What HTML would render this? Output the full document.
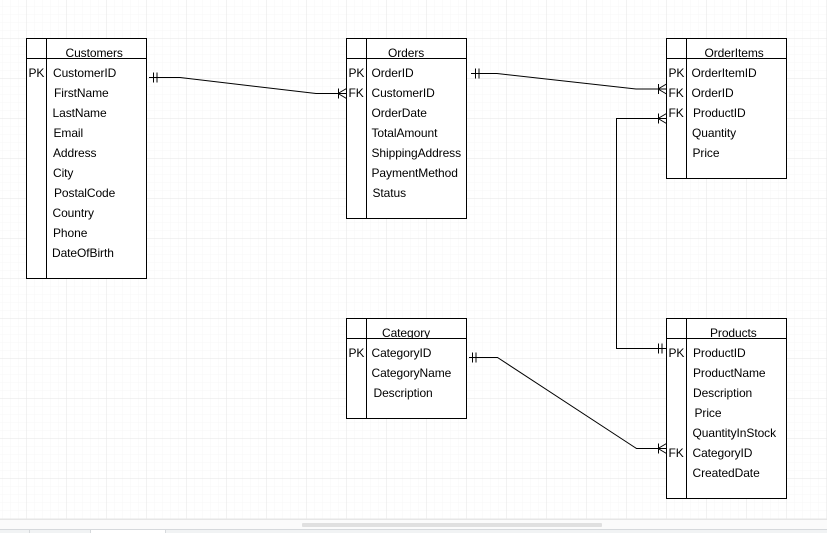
<!DOCTYPE html>
<html>
<head>
<meta charset="utf-8">
<style>
html,body{margin:0;padding:0;background:#fff;width:827px;height:533px;overflow:hidden}
svg{display:block;position:absolute;left:0;top:0}
text{font-family:"Liberation Sans",Arial,sans-serif;font-size:12px;fill:#000;letter-spacing:-0.08px}
</style>
</head>
<body>
<svg width="827" height="533" viewBox="0 0 827 533" xmlns="http://www.w3.org/2000/svg">
<defs>
<pattern id="minor" x="26.5" y="38.5" width="8" height="8" patternUnits="userSpaceOnUse"><path d="M0 0V8M0 0H8" stroke="#f7f7f7" stroke-width="1" fill="none"/></pattern>
<pattern id="major" x="26.5" y="38.5" width="40" height="40" patternUnits="userSpaceOnUse"><path d="M0 0V40M0 0H40" stroke="#e6e6e6" stroke-width="1" fill="none"/></pattern>
<clipPath id="cat"><rect x="367" y="319" width="100" height="19"/></clipPath>
</defs>
<rect x="0" y="0" width="827" height="519" fill="#fff"/>
<rect x="0" y="0" width="827" height="519" fill="url(#minor)"/>
<rect x="0" y="0" width="827" height="519" fill="url(#major)"/>
<rect x="0" y="519" width="827" height="10" fill="#fbfbfb"/>
<rect x="0" y="519" width="827" height="1" fill="#e6e6e6"/>
<rect x="302" y="523" width="300" height="4" rx="1" fill="#e0e0e0"/>
<rect x="0" y="529" width="827" height="4" fill="#f1f3f4"/>
<rect x="0" y="529" width="827" height="1" fill="#d6d9dc"/>
<rect x="91" y="530" width="74" height="3" fill="#fff"/>
<rect x="29" y="530" width="1" height="3" fill="#d6d9dc"/>
<rect x="90" y="530" width="1" height="3" fill="#d6d9dc"/>
<rect x="165" y="530" width="1" height="3" fill="#d6d9dc"/>

<g fill="#fff" stroke="#000" stroke-width="1">
<rect x="26.5" y="38.5" width="120" height="240"/><path d="M26.5 58.5H146.5M46.5 38.5V278.5" fill="none"/>
<rect x="346.5" y="38.5" width="120" height="180"/><path d="M346.5 58.5H466.5M366.5 38.5V218.5" fill="none"/>
<rect x="666.5" y="38.5" width="120" height="140"/><path d="M666.5 58.5H786.5M686.5 38.5V178.5" fill="none"/>
<rect x="346.5" y="318.5" width="120" height="100"/><path d="M346.5 338.5H466.5M366.5 318.5V418.5" fill="none"/>
<rect x="666.5" y="318.5" width="120" height="180"/><path d="M666.5 338.5H786.5M686.5 318.5V498.5" fill="none"/>
</g>

<g>
<text x="65.5" y="57">Customers</text>
<text x="28.5" y="77">PK</text>
<text x="53" y="77">CustomerID</text>
<text x="54" y="97">FirstName</text>
<text x="52.5" y="117">LastName</text>
<text x="53.5" y="137">Email</text>
<text x="53" y="157">Address</text>
<text x="53" y="177">City</text>
<text x="54" y="197">PostalCode</text>
<text x="52.5" y="217">Country</text>
<text x="53" y="237">Phone</text>
<text x="52" y="257">DateOfBirth</text>

<text x="388" y="57">Orders</text>
<text x="348.5" y="77">PK</text><text x="348.5" y="97">FK</text>
<text x="371.5" y="77">OrderID</text>
<text x="371.5" y="97">CustomerID</text>
<text x="371.5" y="117">OrderDate</text>
<text x="371.5" y="137">TotalAmount</text>
<text x="371.5" y="157">ShippingAddress</text>
<text x="371.5" y="177">PaymentMethod</text>
<text x="372.5" y="197">Status</text>

<text x="704.5" y="57">OrderItems</text>
<text x="668.5" y="77">PK</text><text x="668.5" y="97">FK</text><text x="668.5" y="117">FK</text>
<text x="691.5" y="77">OrderItemID</text>
<text x="691.5" y="97">OrderID</text>
<text x="693" y="117">ProductID</text>
<text x="692" y="137">Quantity</text>
<text x="692.5" y="157">Price</text>

<text x="382" y="337" clip-path="url(#cat)">Category</text>
<text x="348.5" y="357">PK</text>
<text x="371.5" y="357">CategoryID</text>
<text x="371.5" y="377">CategoryName</text>
<text x="373.5" y="397">Description</text>

<text x="710" y="337">Products</text>
<text x="668.5" y="357">PK</text><text x="668.5" y="457">FK</text>
<text x="693" y="357">ProductID</text>
<text x="693" y="377">ProductName</text>
<text x="693" y="397">Description</text>
<text x="694.5" y="417">Price</text>
<text x="692.5" y="437">QuantityInStock</text>
<text x="692.5" y="457">CategoryID</text>
<text x="692.5" y="477">CreatedDate</text>
</g>

<g fill="none" stroke="#000" stroke-width="1">
<path d="M149 77.5H180L316 93.5H346"/>
<path d="M153.5 72.5V82.5M157 72.5V82.5"/>
<path d="M338 93.5L346.5 88.5M338 93.5L346.5 98.5M338.5 88.5V98.5"/>

<path d="M471 73.5H497L636 89H666"/>
<path d="M475.5 68.5V78.5M479 68.5V78.5"/>
<path d="M658 89L666.5 84M658 89L666.5 94M658.5 84V94"/>

<path d="M666 118.5H616.5V348.5H666"/>
<path d="M658 118.5L666.5 113.5M658 118.5L666.5 123.5M658.5 113.5V123.5"/>
<path d="M658.5 343.5V353.5M662 343.5V353.5"/>

<path d="M469 357.5H497.5L636.5 448.5H666"/>
<path d="M472.5 352.5V362.5M476 352.5V362.5"/>
<path d="M658 448.5L666.5 443.5M658 448.5L666.5 453.5M658.5 443.5V453.5"/>
</g>
</svg>
</body>
</html>
